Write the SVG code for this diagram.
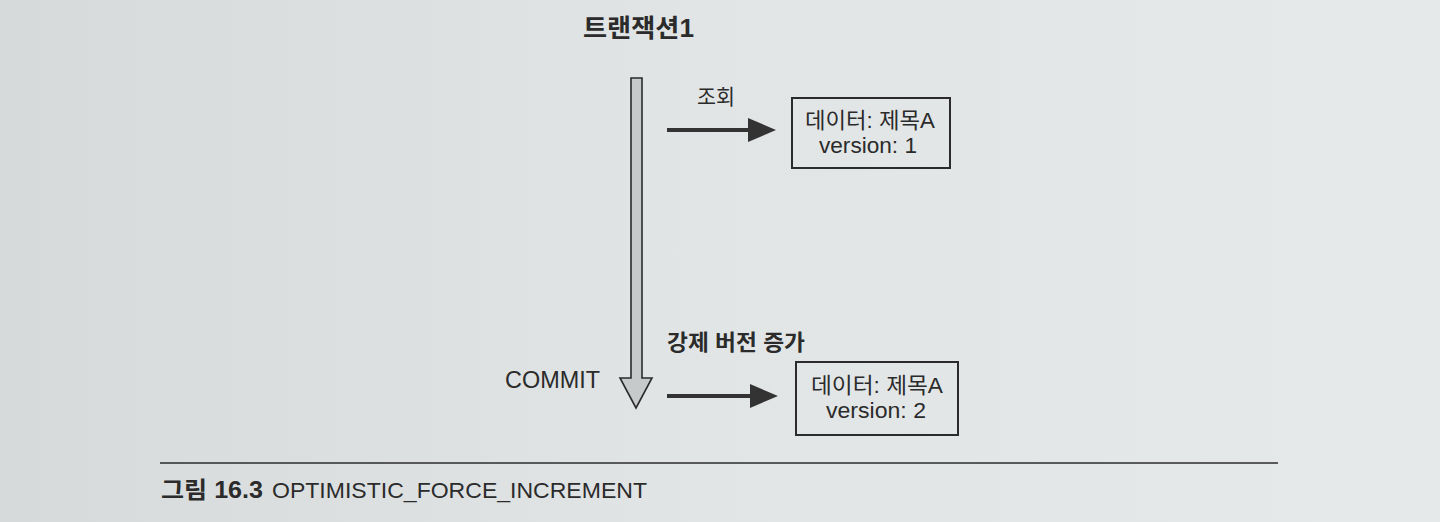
<svg xmlns="http://www.w3.org/2000/svg" width="1440" height="522" viewBox="0 0 1440 522">
  <defs>
    <linearGradient id="bg" x1="0" y1="0" x2="1" y2="0">
      <stop offset="0" stop-color="#d6dadb"/>
      <stop offset="0.5" stop-color="#e2e5e6"/>
      <stop offset="1" stop-color="#e6e9ea"/>
    </linearGradient>
    <marker id="head" markerWidth="8" markerHeight="6" refX="0" refY="3" orient="auto" markerUnits="strokeWidth">
      <path d="M0,0 L7,3 L0,6 Z" fill="#333"/>
    </marker>
    <style>
      .kr { font-family: "Liberation Sans", "Noto Sans CJK KR", sans-serif; fill: #2b2b2b; }
      .b { font-weight: bold; }
      .box { fill: none; stroke: #2b2b2b; stroke-width: 2; }
      .conn { stroke: #333; stroke-width: 4; fill: none; }
    </style>
  </defs>
  <rect width="1440" height="522" fill="url(#bg)"/>

  <g id="transaction1">
    <text class="kr b" x="583" y="37" font-size="25" textLength="111" lengthAdjust="spacingAndGlyphs">트랜잭션1</text>
    <path d="M631,78 H642 V378 H652 L636,408 L620,378 H631 Z" fill="#c6cacb" stroke="#2b2b2b" stroke-width="1.6" stroke-linejoin="miter"/>
    <text class="kr" x="505" y="388" font-size="23" textLength="95" lengthAdjust="spacingAndGlyphs">COMMIT</text>
  </g>

  <g id="connectors">
    <path class="conn" d="M667,130 H748" marker-end="url(#head)"/>
    <text class="kr" x="697" y="104" font-size="21" textLength="38" lengthAdjust="spacingAndGlyphs">조회</text>
    <path class="conn" d="M667,396 H750" marker-end="url(#head)"/>
    <text class="kr b" x="667" y="350" font-size="22" textLength="138" lengthAdjust="spacingAndGlyphs">강제 버전 증가</text>
  </g>

  <g id="data-v1">
    <rect class="box" x="792" y="98" width="158" height="70"/>
    <text class="kr" x="805" y="128" font-size="22" textLength="130" lengthAdjust="spacingAndGlyphs">데이터: 제목A</text>
    <text class="kr" x="819" y="153" font-size="22" textLength="98" lengthAdjust="spacingAndGlyphs">version: 1</text>
  </g>

  <g id="data-v2">
    <rect class="box" x="796" y="362" width="162" height="73"/>
    <text class="kr" x="811" y="393" font-size="22" textLength="132" lengthAdjust="spacingAndGlyphs">데이터: 제목A</text>
    <text class="kr" x="826" y="418" font-size="22" textLength="100" lengthAdjust="spacingAndGlyphs">version: 2</text>
  </g>

  <g id="caption">
    <line x1="160" y1="463" x2="1278" y2="463" stroke="#2b2b2b" stroke-width="1.6"/>
    <text class="kr b" x="161" y="498" font-size="23" textLength="102" lengthAdjust="spacingAndGlyphs">그림 16.3</text>
    <text class="kr" x="272" y="498" font-size="22" textLength="375" lengthAdjust="spacingAndGlyphs">OPTIMISTIC_FORCE_INCREMENT</text>
  </g>
</svg>
